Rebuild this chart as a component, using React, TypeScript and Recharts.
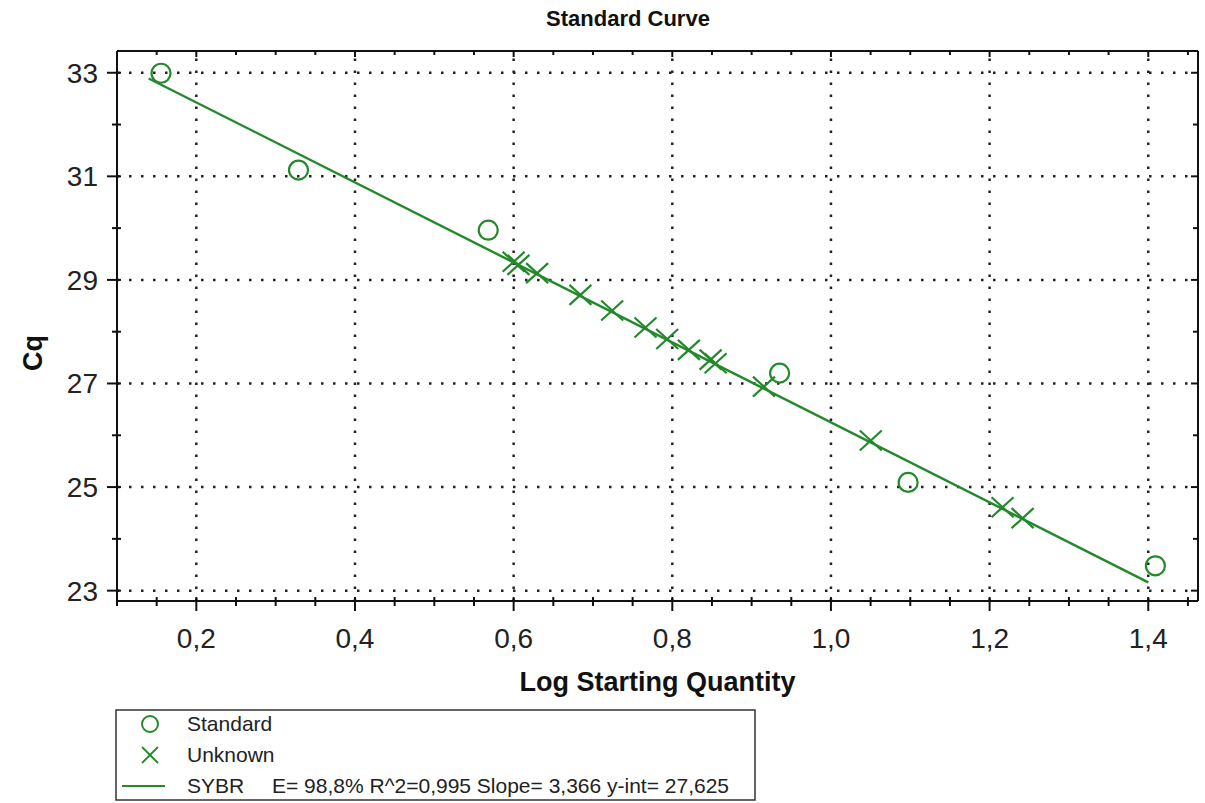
import React from 'react';
import { ScatterChart, Scatter, XAxis, YAxis, ReferenceLine } from 'recharts';

const GREEN = '#23892a';
const FONT = '"Liberation Sans", Arial, sans-serif';

// standards (circles)
const standardX = [0.1555, 0.3288, 0.568, 0.9353, 1.0973, 1.409];
const standardY = [32.99, 31.12, 29.96, 27.2, 25.09, 23.48];

// unknowns (crosses)
const unknownX = [0.6, 0.606, 0.6296, 0.6842, 0.7242, 0.7662, 0.7936, 0.8209, 0.8483, 0.8546, 0.9155, 1.0502, 1.2163, 1.2416];
const unknownY = [29.35, 29.29, 29.13, 28.71, 28.41, 28.08, 27.86, 27.65, 27.46, 27.39, 26.94, 25.9, 24.61, 24.4];

// regression line end points
const fitX = [0.14, 1.4];
const fitY = [32.89, 23.16];

const xTicks = [0.1, 0.15, 0.2, 0.25, 0.3, 0.35, 0.4, 0.45, 0.5, 0.55, 0.6, 0.65, 0.7, 0.75, 0.8, 0.85, 0.9, 0.95, 1.0, 1.05, 1.1, 1.15, 1.2, 1.25, 1.3, 1.35, 1.4, 1.45];
const xMajor = [0.2, 0.4, 0.6, 0.8, 1.0, 1.2, 1.4];
const yTicks = [23, 24, 25, 26, 27, 28, 29, 30, 31, 32, 33];
const yMajor = [23, 25, 27, 29, 31, 33];

const xDomain = [0.1, 1.4627];
const yDomain = [22.8, 33.42];

const standards = standardX.map((x, i) => ({ x, y: standardY[i] }));
const unknowns = unknownX.map((x, i) => ({ x, y: unknownY[i] }));
const fitLine = fitX.map((x, i) => ({ x, y: fitY[i] }));

const isMajor = (list: number[], v: number) => list.some(m => Math.abs(m - v) < 1e-6);
const fmt = (v: number) => v.toFixed(1).replace('.', ',');

const CircleShape = (props: any) => (
  <circle cx={props.cx} cy={props.cy} r={9.5} fill="none" stroke={GREEN} strokeWidth={2.2} />
);

const CrossShape = (props: any) => {
  const { cx, cy } = props;
  return (
    <g stroke={GREEN} strokeWidth={2.2}>
      <line x1={cx - 11} y1={cy - 10} x2={cx + 11} y2={cy + 10} />
      <line x1={cx - 11} y1={cy + 10} x2={cx + 11} y2={cy - 10} />
    </g>
  );
};

const BottomTick = (props: any) => {
  const { x, y, payload } = props;
  const major = isMajor(xMajor, payload.value);
  return (
    <g>
      <line x1={x} x2={x} y1={y - 4} y2={y + (major ? 10 : 5)} stroke="#111" strokeWidth={2} />
      {major && (
        <text x={x} y={y + 47} textAnchor="middle" fontSize={28} fontFamily={FONT} fill="#222">
          {fmt(payload.value)}
        </text>
      )}
    </g>
  );
};

const TopTick = (props: any) => {
  const { x, y, payload } = props;
  const major = isMajor(xMajor, payload.value);
  return <line x1={x} x2={x} y1={y} y2={y + (major ? 6 : 4)} stroke="#111" strokeWidth={2} />;
};

const LeftTick = (props: any) => {
  const { x, y, payload } = props;
  const major = isMajor(yMajor, payload.value);
  return (
    <g>
      <line x1={x - (major ? 10 : 5)} x2={x + 4} y1={y} y2={y} stroke="#111" strokeWidth={2} />
      {major && (
        <text x={x - 19} y={y + 10} textAnchor="end" fontSize={28} fontFamily={FONT} fill="#222">
          {payload.value}
        </text>
      )}
    </g>
  );
};

const RightTick = (props: any) => {
  const { x, y, payload } = props;
  const major = isMajor(yMajor, payload.value);
  return <line x1={x - (major ? 7 : 5)} x2={x} y1={y} y2={y} stroke="#111" strokeWidth={2} />;
};

const Legend = () => (
  <svg width={642} height={92} style={{ position: 'absolute', left: 115, top: 709 }}>
    <rect x={1} y={1} width={639} height={90} fill="#fff" stroke="#333" strokeWidth={1.5} />
    <circle cx={35} cy={15} r={8} fill="none" stroke={GREEN} strokeWidth={2} />
    <g stroke={GREEN} strokeWidth={1.8}>
      <line x1={27} y1={38} x2={43} y2={54} />
      <line x1={27} y1={54} x2={43} y2={38} />
    </g>
    <line x1={7} x2={50} y1={77} y2={77} stroke={GREEN} strokeWidth={2} />
    <g fontFamily={FONT} fontSize={21} fill="#222">
      <text x={72} y={22}>Standard</text>
      <text x={72} y={53}>Unknown</text>
      <text x={72} y={84}>SYBR</text>
      <text x={157} y={84}>E= 98,8% R^2=0,995 Slope= 3,366 y-int= 27,625</text>
    </g>
  </svg>
);

export default function App() {
  return (
    <div style={{ position: 'absolute', left: 0, top: 0, width: 1205, height: 803, background: '#fff' }}>
      <div
        style={{
          position: 'absolute', left: 0, top: 6, width: 1256, textAlign: 'center',
          fontFamily: FONT, fontWeight: 'bold', fontSize: 22, color: '#111',
        }}
      >
        Standard Curve
      </div>
      <ScatterChart width={1205} height={803} margin={{ top: 50, right: 6, bottom: 142, left: 57 }}>
        <XAxis
          type="number"
          dataKey="x"
          domain={xDomain}
          allowDataOverflow
          ticks={xTicks}
          interval={0}
          height={60}
          tickSize={0}
          tickMargin={0}
          tick={<BottomTick />}
          axisLine={{ stroke: '#111', strokeWidth: 2 }}
          label={{
            content: (p: any) => (
              <text x={p.viewBox.x + p.viewBox.width / 2} y={p.viewBox.y + 90} textAnchor="middle" fontSize={27} fontWeight="bold" fontFamily={FONT} fill="#111">
                Log Starting Quantity
              </text>
            ),
          }}
        />
        <XAxis
          xAxisId="top"
          orientation="top"
          type="number"
          dataKey="x"
          domain={xDomain}
          allowDataOverflow
          ticks={xTicks}
          interval={0}
          height={1}
          tickSize={0}
          tickMargin={0}
          tick={<TopTick />}
          axisLine={{ stroke: '#111', strokeWidth: 2 }}
        />
        <YAxis
          type="number"
          dataKey="y"
          domain={yDomain}
          allowDataOverflow
          ticks={yTicks}
          interval={0}
          width={60}
          tickSize={0}
          tickMargin={0}
          tick={<LeftTick />}
          axisLine={{ stroke: '#111', strokeWidth: 2 }}
          label={{
            content: (p: any) => {
              const cx = 33;
              const cy = p.viewBox.y + p.viewBox.height / 2 + 27;
              return (
                <text x={cx} y={cy} transform={`rotate(-90 ${cx} ${cy})`} textAnchor="middle" dominantBaseline="central" fontSize={27} fontWeight="bold" fontFamily={FONT} fill="#111">
                  Cq
                </text>
              );
            },
          }}
        />
        <YAxis
          yAxisId="right"
          orientation="right"
          type="number"
          dataKey="y"
          domain={yDomain}
          allowDataOverflow
          ticks={yTicks}
          interval={0}
          width={1}
          tickSize={0}
          tickMargin={0}
          tick={<RightTick />}
          axisLine={{ stroke: '#111', strokeWidth: 2 }}
        />
        {xMajor.map(v => (
          <ReferenceLine key={'vx' + v} x={v} stroke="#222" strokeWidth={2.5} strokeDasharray="2.5 9.5" />
        ))}
        {yMajor.map(v => (
          <ReferenceLine key={'hy' + v} y={v} stroke="#222" strokeWidth={2.5} strokeDasharray="2.5 9.5" />
        ))}
        <Scatter data={fitLine} line={{ stroke: GREEN, strokeWidth: 2.4 }} shape={() => null} isAnimationActive={false} />
        <Scatter data={standards} shape={<CircleShape />} isAnimationActive={false} />
        <Scatter data={unknowns} shape={<CrossShape />} isAnimationActive={false} />
      </ScatterChart>
      <Legend />
    </div>
  );
}
